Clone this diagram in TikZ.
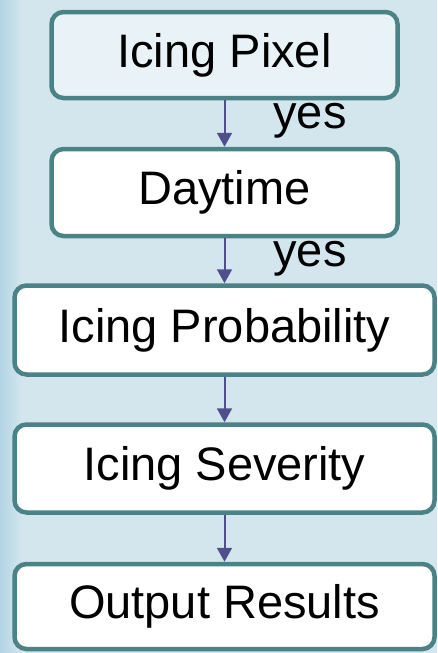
\documentclass[tikz,border=0pt]{standalone}
\usepackage{fontspec}
\setmainfont{Liberation Sans}
\usetikzlibrary{arrows.meta}
\definecolor{bgblue}{HTML}{D3E6EE}
\definecolor{stripblue}{HTML}{B3D4E4}
\definecolor{boxline}{HTML}{4A8286}
\definecolor{arrowblue}{HTML}{4F4F8C}
\definecolor{paleblue}{HTML}{E9F2F6}
\tikzset{
    stepbox/.style={draw=boxline, line width=4.5pt, rounded corners=12pt, fill=white,
        inner sep=0pt, font=\fontsize{47}{56}\selectfont},
    flow/.style={draw=arrowblue, line width=2pt, -{Triangle[length=14pt,width=15pt]}},
    answer/.style={font=\fontsize{47}{56}\selectfont}
}

\begin{document}
\begin{tikzpicture}[x=1pt, y=-1pt]
        % background
        \fill[bgblue] (0,0) rectangle (437,653);
        \shade[left color=stripblue, right color=bgblue] (0,0) rectangle (22,653);
        \useasboundingbox (0,0) rectangle (437,653);
        % boxes
        \node[stepbox, fill=paleblue, minimum width=346pt, minimum height=86pt] (pixel) at (224.5,55) {Icing Pixel};
        \node[stepbox, minimum width=346pt, minimum height=87pt] (day) at (224.5,192.5) {Daytime};
        \node[stepbox, minimum width=420pt, minimum height=89pt] (prob) at (224.5,330) {Icing Probability};
        \node[stepbox, minimum width=420pt, minimum height=88pt] (sev) at (224.5,468.5) {Icing Severity};
        \node[stepbox, minimum width=420pt, minimum height=85pt] (out) at (224.5,606.5) {Output Results};
        % arrows
        \foreach \a/\b in {pixel/day, day/prob, prob/sev, sev/out} {
            \draw[flow] (\a.south) -- (\b.north);
        }
        \node[answer] (yes1) at (310,121) {yes};
        \node[answer] (yes2) at (310,259) {yes};
    \end{tikzpicture}
\end{document}
